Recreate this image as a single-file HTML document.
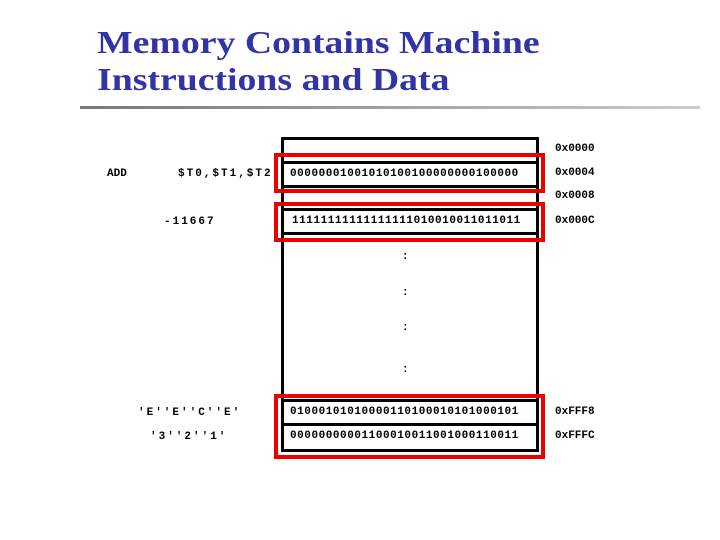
<!DOCTYPE html>
<html><head><style>
body{margin:0;width:720px;height:540px;background:#fff;position:relative;overflow:hidden;font-family:"Liberation Serif",serif}
.t{position:absolute;left:97px;color:#3333a8;font-weight:bold;font-size:32px;white-space:nowrap;transform:scaleX(1.18);transform-origin:0 0}
.m{position:absolute;font-family:"Liberation Mono",monospace;font-weight:bold;font-size:11px;white-space:nowrap;line-height:12px}
.s{letter-spacing:2px}
.bn{letter-spacing:0.55px}
.b{position:absolute;border:3px solid #000;box-sizing:border-box}
.r{position:absolute;border:4px solid #e00;box-sizing:border-box}
</style></head><body>
<div class="t" style="top:24px">Memory Contains Machine</div>
<div class="t" style="top:61px">Instructions and Data</div>
<div style="position:absolute;left:80px;top:106px;width:620px;height:3px;background:linear-gradient(90deg,#777,#ccc)"></div>

<div class="b" style="left:281px;top:137px;width:258px;height:315px"></div>
<div class="b" style="left:281px;top:161px;width:258px;height:27px"></div>
<div class="b" style="left:281px;top:208px;width:258px;height:27px"></div>
<div class="b" style="left:281px;top:399px;width:258px;height:27px"></div>
<div class="b" style="left:281px;top:423px;width:258px;height:29px"></div>

<div class="r" style="left:274px;top:153px;width:271px;height:40px"></div>
<div class="r" style="left:274px;top:202px;width:271px;height:40px"></div>
<div class="r" style="left:274px;top:394px;width:271px;height:65px"></div>

<div class="m bn" style="left:290px;top:168px">00000001001010100100000000100000</div>
<div class="m bn" style="left:292px;top:215px">11111111111111111010010011011011</div>
<div class="m bn" style="left:290px;top:406px">01000101010000110100010101000101</div>
<div class="m bn" style="left:290px;top:430px">00000000001100010011001000110011</div>

<div class="m" style="left:555px;top:143px">0x0000</div>
<div class="m" style="left:555px;top:167px">0x0004</div>
<div class="m" style="left:555px;top:190px">0x0008</div>
<div class="m" style="left:555px;top:215px">0x000C</div>
<div class="m" style="left:555px;top:406px">0xFFF8</div>
<div class="m" style="left:555px;top:430px">0xFFFC</div>

<div class="m" style="left:107px;top:168px">ADD</div>
<div class="m s" style="left:178px;top:168px">$T0,$T1,$T2</div>
<div class="m s" style="left:164px;top:216px">-11667</div>
<div class="m s" style="left:138px;top:407px">'E''E''C''E'</div>
<div class="m s" style="left:150px;top:431px">'3''2''1'</div>

<div class="m" style="left:402px;top:251px">:</div>
<div class="m" style="left:402px;top:287px">:</div>
<div class="m" style="left:402px;top:322px">:</div>
<div class="m" style="left:402px;top:364px">:</div>
</body></html>
